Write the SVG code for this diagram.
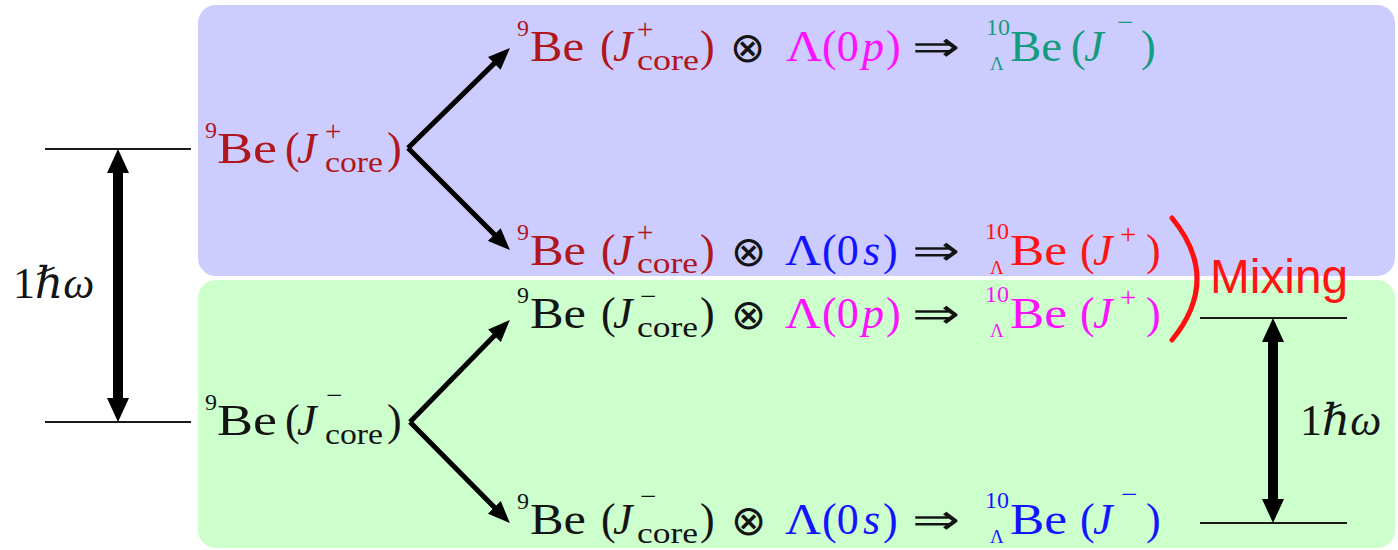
<svg xmlns="http://www.w3.org/2000/svg" width="1398" height="550" viewBox="0 0 1398 550">
<style>
.m,.sp,.s,.sl{font-family:"Liberation Serif","Times New Roman","DejaVu Serif",serif;}
.m{font-size:44px;}
.i{font-style:italic;}
.sp{font-size:24px;}
.s{font-size:29px;}
.sl{font-size:19px;}
.op{font-size:42px;font-family:"DejaVu Sans",sans-serif;font-weight:200;}
.mix{font-family:"Liberation Sans",Arial,sans-serif;font-size:48px;fill:#ff1414;}
.dr{fill:#b0171c;}
.bk{fill:#141414;}
.mg{fill:#ff10ff;}
.bl{fill:#1414ff;}
.tl{fill:#159b80;}
.rd{fill:#ff1414;}
.lvl{stroke:#1a1a1a;stroke-width:2;}
.fork{stroke:#000;stroke-width:5;fill:none;marker-end:url(#ah);}
.dbl{stroke:#000;stroke-width:10;marker-start:url(#vh);marker-end:url(#vh);}
</style>
<defs>
<marker id="ah" markerWidth="24" markerHeight="18" refX="10" refY="9" orient="auto" markerUnits="userSpaceOnUse"><path d="M0,0 L22,9 L0,18 z" fill="#000"/></marker>
<marker id="vh" markerWidth="24" markerHeight="22" refX="10" refY="11" orient="auto-start-reverse" markerUnits="userSpaceOnUse"><path d="M0,0 L24,11 L0,22 z" fill="#000"/></marker>
</defs>
<rect width="1398" height="550" fill="#fff"/>
<g id="band-positive"><rect x="198" y="5" width="1197" height="271" rx="18" fill="#ccccff"/></g>
<g id="band-negative"><rect x="198" y="280" width="1197" height="268" rx="18" fill="#ccffcc"/></g>

<g id="connectors">
<line class="lvl" x1="45" y1="149" x2="191" y2="149"/>
<line class="lvl" x1="45" y1="422" x2="191" y2="422"/>
<line class="lvl" x1="1200" y1="318" x2="1347" y2="318"/>
<line class="lvl" x1="1200" y1="523" x2="1347" y2="523"/>
<line class="dbl" x1="118" y1="163" x2="118" y2="408"/>
<line class="dbl" x1="1273" y1="332" x2="1273" y2="509"/>
<line class="fork" x1="408" y1="148" x2="501.4" y2="56.4"/>
<line class="fork" x1="408" y1="148" x2="501.4" y2="241.6"/>
<line class="fork" x1="410" y1="422" x2="501.4" y2="328.6"/>
<line class="fork" x1="410" y1="422" x2="501.4" y2="514.4"/>
<path d="M1172,218 Q1222,279 1172,340" fill="none" stroke="#ff1010" stroke-width="5" stroke-linecap="round"/>
</g>

<g id="core-plus" class="dr">
<text class="sp" x="205" y="138">9</text>
<text class="m" x="217" y="163" textLength="60" lengthAdjust="spacingAndGlyphs">Be</text>
<text class="m" x="285" y="163">(</text>
<text class="m i" x="297" y="163">J</text>
<text class="s" x="325" y="141">+</text>
<text class="s" x="325" y="172" textLength="58" lengthAdjust="spacingAndGlyphs">core</text>
<text class="m" x="387" y="163">)</text>
</g>

<g id="core-minus" class="bk">
<text class="sp" x="205" y="410">9</text>
<text class="m" x="217" y="435" textLength="60" lengthAdjust="spacingAndGlyphs">Be</text>
<text class="m" x="285" y="435">(</text>
<text class="m i" x="297" y="435">J</text>
<text class="s" x="326" y="405">−</text>
<text class="s" x="325" y="444" textLength="58" lengthAdjust="spacingAndGlyphs">core</text>
<text class="m" x="387" y="435">)</text>
</g>

<g id="row-plus-0p">
<g class="dr">
<text class="sp" x="517" y="36">9</text>
<text class="m" x="530" y="61" textLength="54" lengthAdjust="spacingAndGlyphs">Be</text>
<text class="m" x="600" y="61">(</text>
<text class="m i" x="613" y="61">J</text>
<text class="s" x="637" y="39">+</text>
<text class="s" x="637" y="70" textLength="62" lengthAdjust="spacingAndGlyphs">core</text>
<text class="m" x="700" y="61">)</text>
</g>
<text class="op bk" x="730" y="62">⊗</text>
<g class="mg">
<text class="m" x="786" y="61" textLength="36" lengthAdjust="spacingAndGlyphs">Λ</text>
<text class="m" x="822" y="61">(0</text>
<text class="m i" x="862" y="61">p</text>
<text class="m" x="886" y="61">)</text>
</g>
<text class="op bk" x="912" y="61" textLength="48" lengthAdjust="spacingAndGlyphs">⇒</text>
<g class="tl">
<text class="sp" x="986" y="35">10</text>
<text class="sl" x="990" y="70">Λ</text>
<text class="m" x="1010" y="61" textLength="52" lengthAdjust="spacingAndGlyphs">Be</text>
<text class="m" x="1071" y="61">(</text>
<text class="m i" x="1084" y="61">J</text>
<text class="s" x="1117" y="32">−</text>
<text class="m" x="1141" y="61">)</text>
</g>
</g>

<g id="row-plus-0s">
<g class="dr">
<text class="sp" x="517" y="240">9</text>
<text class="m" x="530" y="265" textLength="56" lengthAdjust="spacingAndGlyphs">Be</text>
<text class="m" x="601" y="265">(</text>
<text class="m i" x="613" y="265">J</text>
<text class="s" x="637" y="242">+</text>
<text class="s" x="637" y="273" textLength="61" lengthAdjust="spacingAndGlyphs">core</text>
<text class="m" x="700" y="265">)</text>
</g>
<text class="op bk" x="731" y="266">⊗</text>
<g class="bl">
<text class="m" x="785" y="265" textLength="36" lengthAdjust="spacingAndGlyphs">Λ</text>
<text class="m" x="822" y="265">(0</text>
<text class="m i" x="863" y="265">s</text>
<text class="m" x="883" y="265">)</text>
</g>
<text class="op bk" x="912" y="265" textLength="48" lengthAdjust="spacingAndGlyphs">⇒</text>
<g class="rd">
<text class="sp" x="985" y="239">10</text>
<text class="sl" x="990" y="274">Λ</text>
<text class="m" x="1010" y="265" textLength="57" lengthAdjust="spacingAndGlyphs">Be</text>
<text class="m" x="1080" y="265">(</text>
<text class="m i" x="1093" y="265">J</text>
<text class="s" x="1120" y="244">+</text>
<text class="m" x="1146" y="265">)</text>
</g>
</g>

<g id="row-minus-0p">
<g class="bk">
<text class="sp" x="517" y="303">9</text>
<text class="m" x="530" y="328" textLength="56" lengthAdjust="spacingAndGlyphs">Be</text>
<text class="m" x="601" y="328">(</text>
<text class="m i" x="613" y="328">J</text>
<text class="s" x="640" y="306">−</text>
<text class="s" x="637" y="337" textLength="61" lengthAdjust="spacingAndGlyphs">core</text>
<text class="m" x="700" y="328">)</text>
</g>
<text class="op bk" x="731" y="329">⊗</text>
<g class="mg">
<text class="m" x="785" y="328" textLength="36" lengthAdjust="spacingAndGlyphs">Λ</text>
<text class="m" x="822" y="328">(0</text>
<text class="m i" x="862" y="328">p</text>
<text class="m" x="886" y="328">)</text>
</g>
<text class="op bk" x="912" y="328" textLength="48" lengthAdjust="spacingAndGlyphs">⇒</text>
<g class="mg">
<text class="sp" x="985" y="302">10</text>
<text class="sl" x="990" y="337">Λ</text>
<text class="m" x="1010" y="328" textLength="57" lengthAdjust="spacingAndGlyphs">Be</text>
<text class="m" x="1080" y="328">(</text>
<text class="m i" x="1093" y="328">J</text>
<text class="s" x="1120" y="307">+</text>
<text class="m" x="1146" y="328">)</text>
</g>
</g>

<g id="row-minus-0s">
<g class="bk">
<text class="sp" x="517" y="509">9</text>
<text class="m" x="530" y="534" textLength="56" lengthAdjust="spacingAndGlyphs">Be</text>
<text class="m" x="601" y="534">(</text>
<text class="m i" x="613" y="534">J</text>
<text class="s" x="640" y="506">−</text>
<text class="s" x="637" y="543" textLength="61" lengthAdjust="spacingAndGlyphs">core</text>
<text class="m" x="700" y="534">)</text>
</g>
<text class="op bk" x="731" y="535">⊗</text>
<g class="bl">
<text class="m" x="785" y="534" textLength="36" lengthAdjust="spacingAndGlyphs">Λ</text>
<text class="m" x="822" y="534">(0</text>
<text class="m i" x="863" y="534">s</text>
<text class="m" x="883" y="534">)</text>
</g>
<text class="op bk" x="912" y="534" textLength="48" lengthAdjust="spacingAndGlyphs">⇒</text>
<g class="bl">
<text class="sp" x="985" y="508">10</text>
<text class="sl" x="990" y="543">Λ</text>
<text class="m" x="1010" y="534" textLength="57" lengthAdjust="spacingAndGlyphs">Be</text>
<text class="m" x="1080" y="534">(</text>
<text class="m i" x="1093" y="534">J</text>
<text class="s" x="1121" y="504">−</text>
<text class="m" x="1146" y="534">)</text>
</g>
</g>

<g id="mixing">
<text class="mix" x="1210" y="293" textLength="138" lengthAdjust="spacingAndGlyphs">Mixing</text>
</g>

<g id="gap-left" class="bk">
<text class="m" x="13" y="298">1<tspan class="i">ℏω</tspan></text>
</g>
<g id="gap-right" class="bk">
<text class="m" x="1300" y="435">1<tspan class="i">ℏω</tspan></text>
</g>
</svg>
